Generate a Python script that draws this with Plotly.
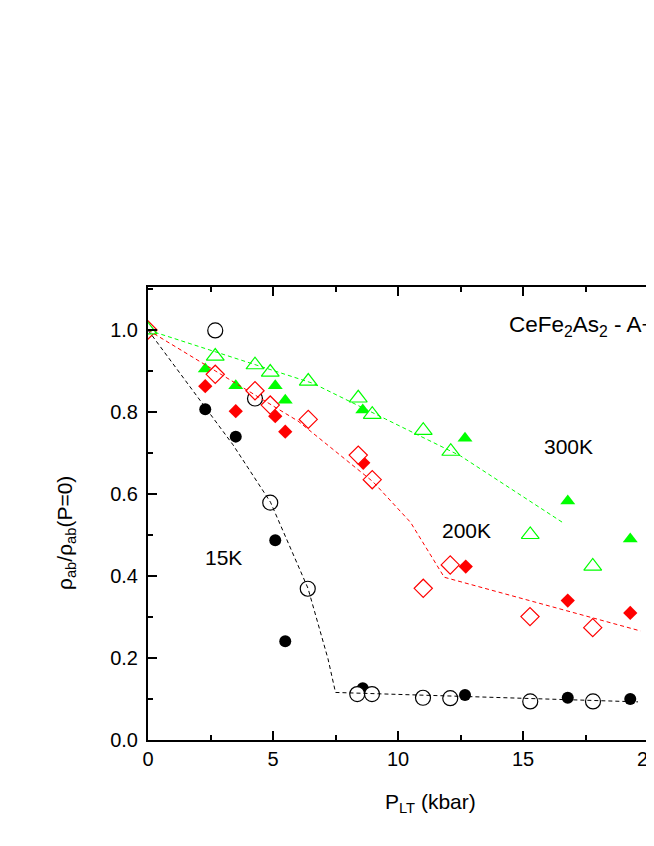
import plotly.graph_objects as go

# ---- data ----
k15_open_x = [2.69, 4.28, 4.89, 6.39, 8.37, 8.96, 11.0, 12.09, 15.29, 17.8]
k15_open_y = [0.999, 0.833, 0.579, 0.369, 0.112, 0.112, 0.103, 0.102, 0.094, 0.094]
k15_fill_x = [2.29, 3.51, 5.09, 5.49, 8.59, 12.68, 16.79, 19.29]
k15_fill_y = [0.807, 0.740, 0.487, 0.241, 0.126, 0.110, 0.103, 0.100]

k200_open_x = [0, 2.69, 4.28, 4.89, 6.41, 8.41, 8.97, 11.01, 12.09, 15.28, 17.79]
k200_open_y = [1.0, 0.892, 0.852, 0.817, 0.782, 0.695, 0.635, 0.370, 0.427, 0.301, 0.274]
k200_fill_x = [2.29, 3.51, 5.09, 5.49, 8.61, 12.71, 16.79, 19.29]
k200_fill_y = [0.863, 0.802, 0.790, 0.752, 0.676, 0.423, 0.340, 0.310]

k300_open_x = [0, 2.69, 4.28, 4.89, 6.41, 8.41, 8.97, 11.01, 12.11, 15.29, 17.79]
k300_open_y = [1.0, 0.936, 0.915, 0.897, 0.875, 0.834, 0.794, 0.755, 0.704, 0.501, 0.424]
k300_fill_x = [2.29, 3.51, 5.09, 5.49, 8.59, 12.68, 16.79, 19.29]
k300_fill_y = [0.905, 0.864, 0.864, 0.829, 0.805, 0.736, 0.583, 0.490]

k15_guide_x = [0, 3.4, 4.9, 6.4, 7.2, 7.5, 19.6]
k15_guide_y = [1.0, 0.72, 0.58, 0.37, 0.198, 0.116, 0.093]
k200_guide_x = [0, 6.0, 9.0, 10.5, 11.85, 19.7]
k200_guide_y = [1.0, 0.778, 0.630, 0.531, 0.397, 0.266]
k300_guide_x = [0, 6.6, 9.5, 12.5, 16.6]
k300_guide_y = [1.0, 0.870, 0.783, 0.693, 0.530]

x_ticks = [0, 5, 10, 15, 20]
y_ticks = [0.0, 0.2, 0.4, 0.6, 0.8, 1.0]

BLACK = "#000000"
RED = "#ff0000"
GREEN = "#00ff00"
FONT = "Arial, Liberation Sans, sans-serif"

fig = go.Figure()

# filled markers
for xs, ys, sym, col, size in [
    (k15_fill_x, k15_fill_y, "circle", BLACK, 12),
    (k200_fill_x, k200_fill_y, "diamond", RED, 11),
    (k300_fill_x, k300_fill_y, "triangle-up", GREEN, 13),
]:
    fig.add_trace(go.Scatter(x=xs, y=ys, mode="markers",
                             marker=dict(symbol=sym, color=col, size=size, line=dict(width=0)),
                             showlegend=False))

# open markers (white filled)
for xs, ys, sym, col, size in [
    (k15_open_x, k15_open_y, "circle", BLACK, 15),
    (k200_open_x, k200_open_y, "diamond", RED, 14),
    (k300_open_x, k300_open_y, "triangle-up", GREEN, 15.5),
]:
    fig.add_trace(go.Scatter(x=xs, y=ys, mode="markers",
                             marker=dict(symbol=sym, color="white", size=size,
                                         line=dict(color=col, width=1.2)),
                             showlegend=False))

# guide lines
for xs, ys, col in [
    (k15_guide_x, k15_guide_y, BLACK),
    (k200_guide_x, k200_guide_y, RED),
    (k300_guide_x, k300_guide_y, GREEN),
]:
    fig.add_trace(go.Scatter(x=xs, y=ys, mode="lines",
                             line=dict(color=col, width=1, dash="4px,3px"),
                             showlegend=False))

axis_common = dict(
    showgrid=False, zeroline=False, showline=True, linecolor="black", linewidth=2,
    ticks="inside", ticklen=9, tickwidth=1.5, tickcolor="black",
    tickfont=dict(family=FONT, size=20, color="black"),
    ticklabeloverflow="allow", automargin=False,
)

fig.update_xaxes(range=[0, 20.24], tickvals=x_ticks, ticktext=[str(v) for v in x_ticks],
                 mirror="ticks", ticklabelstandoff=0,
                 minor=dict(ticks="inside", ticklen=5, tickwidth=1.5, tickcolor="black", dtick=2.5, tick0=0),
                 **axis_common)
fig.update_yaxes(range=[0, 1.105], tickvals=y_ticks, ticktext=[f"{v:.1f}" for v in y_ticks],
                 ticklabelstandoff=4,
                 minor=dict(ticks="inside", ticklen=5, tickwidth=1.5, tickcolor="black", dtick=0.1, tick0=0),
                 **axis_common)

ann_font = dict(family=FONT, size=21, color="black")
fig.add_annotation(x=(223 - 148) / 25, y=(740 - 557) / 410, text="15K", showarrow=False, font=ann_font)
fig.add_annotation(x=(466 - 148) / 25, y=(740 - 530) / 410, text="200K", showarrow=False, font=ann_font)
fig.add_annotation(x=(568 - 148) / 25, y=(740 - 446) / 410, text="300K", showarrow=False, font=ann_font)
fig.add_annotation(x=(507 - 148) / 25, y=(740 - 326) / 410, text="CeFe<sub>2</sub>As<sub>2</sub> - A+",
                   showarrow=False, xanchor="left", font=dict(family=FONT, size=22.5, color="black"))

# axis titles
fig.add_annotation(xref="paper", yref="paper", x=(430 - 148) / 506, y=-(803 - 740) / 453,
                   text="P<sub>LT</sub> (kbar)", showarrow=False, font=ann_font, yanchor="middle")
fig.add_annotation(xref="paper", yref="paper", x=-(148 - 66) / 506, y=(740 - 533) / 453,
                   text="ρ<sub>ab</sub>/ρ<sub>ab</sub>(P=0)", showarrow=False, font=ann_font,
                   textangle=-90, xanchor="center", yanchor="middle")

fig.update_layout(
    width=646, height=838,
    margin=dict(l=140, r=0, t=279, b=106, autoexpand=False),
    paper_bgcolor="white", plot_bgcolor="white",
    font=dict(family=FONT, color="black"),
)

fig.write_html("out.html")
